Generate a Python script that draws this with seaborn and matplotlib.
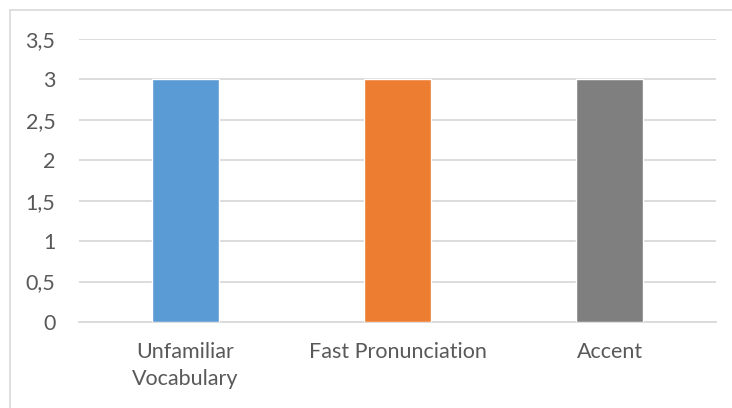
import matplotlib
matplotlib.use("Agg")
import matplotlib.pyplot as plt
from matplotlib.lines import Line2D
from matplotlib.ticker import FuncFormatter, MultipleLocator
import seaborn as sns
import pandas as pd

categories = ["Unfamiliar\nVocabulary", "Fast Pronunciation", "Accent"]
values = [3, 3, 3]
colors = ["#5B9BD5", "#ED7D31", "#7F7F7F"]

sns.set_theme(style="white")
plt.rcParams["font.family"] = ["Lato", "DejaVu Sans"]

df = pd.DataFrame({"category": categories, "value": values})

fig = plt.figure(figsize=(7.32, 4.08), dpi=100)
ax = fig.add_axes([79 / 732, 1 - 322 / 408, (716 - 79) / 732, (322 - 39) / 408])

sns.barplot(data=df, x="category", y="value", hue="category", palette=colors,
            width=0.316, legend=False, ax=ax, saturation=1, zorder=3)

ax.set_ylim(0, 3.5)
ax.set_xlim(-0.5, 2.5)
ax.yaxis.set_major_locator(MultipleLocator(0.5))
ax.yaxis.set_major_formatter(FuncFormatter(lambda v, p: f"{v:g}".replace(".", ",")))
ax.grid(axis="y", color="#D9D9D9", linewidth=1.3, zorder=0)
ax.set_axisbelow(True)
for side in ["top", "right", "left"]:
    ax.spines[side].set_visible(False)
ax.spines["bottom"].set_color("#D9D9D9")
ax.spines["bottom"].set_linewidth(1.3)
ax.set_xlabel("")
ax.set_ylabel("")
ax.tick_params(axis="both", length=0, labelsize=15.5, colors="#595959")
ax.tick_params(axis="y", pad=17)
ax.tick_params(axis="x", pad=14.5)
for lbl in ax.get_xticklabels():
    lbl.set_linespacing(1.4)

# chart frame (top and left edges)
fig.add_artist(Line2D([9.5 / 732, 9.5 / 732], [0, 1 - 9.5 / 408], transform=fig.transFigure,
                      color="#D9D9D9", linewidth=1.2))
fig.add_artist(Line2D([9.5 / 732, 1], [1 - 9.5 / 408, 1 - 9.5 / 408], transform=fig.transFigure,
                      color="#D9D9D9", linewidth=1.2))

fig.savefig("out.png", dpi=100)
